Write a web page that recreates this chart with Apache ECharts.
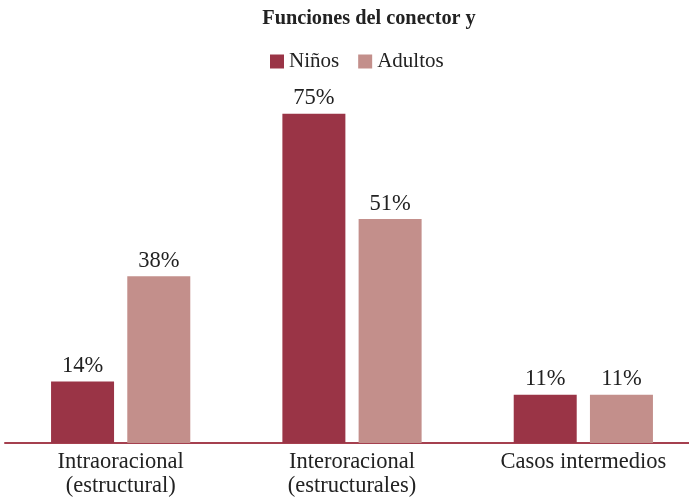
<!DOCTYPE html>
<html>
<head>
<meta charset="utf-8">
<script src="https://cdn.jsdelivr.net/npm/echarts@6/dist/echarts.min.js"></script>
<style>
  html, body { margin: 0; padding: 0; background: #fff; }
  #chart { width: 689px; height: 498px; }
</style>
</head>
<body>
<div id="chart"></div>
<script>
// datos
const categories = ['Intraoracional\n(estructural)', 'Interoracional\n(estructurales)', 'Casos intermedios'];
const ninos = [14, 75, 11];
const adultos = [38, 51, 11];
const seriesNames = ['Niños', 'Adultos'];

const font = '"Liberation Serif", "Times New Roman", serif';
const chart = echarts.init(document.getElementById('chart'));

const labelStyle = {
  show: true,
  position: 'top',
  distance: 4,
  formatter: '{c}%',
  fontFamily: font,
  fontSize: 22.5,
  color: '#222'
};

chart.setOption({
  animation: false,
  title: {
    text: 'Funciones del conector y',
    left: 364,
    textAlign: 'center',
    top: 4,
    textStyle: { fontFamily: font, fontSize: 20.3, fontWeight: 'bold', color: '#222' }
  },
  legend: {
    data: seriesNames,
    left: 265,
    top: 46,
    itemWidth: 14,
    itemHeight: 14,
    itemGap: 19,
    icon: 'rect',
    textStyle: { fontFamily: font, fontSize: 21, color: '#222' }
  },
  grid: { left: 5, width: 694, top: 4, bottom: 55, outerBoundsMode: 'none' },
  xAxis: {
    type: 'category',
    data: categories,
    axisLine: { lineStyle: { color: '#a5404f', width: 2 } },
    axisTick: { show: false },
    axisLabel: { fontFamily: font, fontSize: 22.5, color: '#222', lineHeight: 24, margin: 7 }
  },
  yAxis: {
    type: 'value',
    min: 0,
    max: 100,
    show: false,
    splitLine: { show: false }
  },
  series: [
    {
      name: seriesNames[0],
      type: 'bar',
      data: ninos,
      barWidth: 63,
      barGap: '21%',
      itemStyle: { color: '#9a3446' },
      label: labelStyle
    },
    {
      name: seriesNames[1],
      type: 'bar',
      data: adultos,
      barWidth: 63,
      itemStyle: { color: '#c38f8b' },
      label: labelStyle
    }
  ]
});
</script>
</body>
</html>
